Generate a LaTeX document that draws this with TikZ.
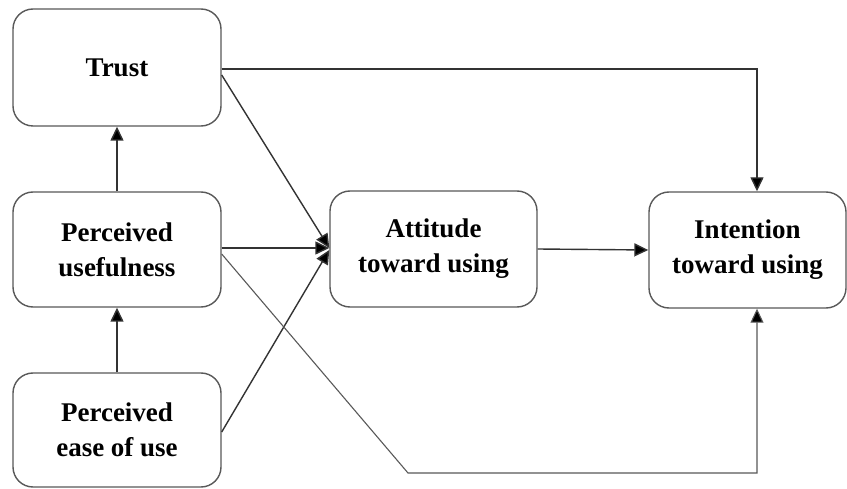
\documentclass[tikz,border=0pt]{standalone}
\usepackage{fontspec}
\setmainfont{Liberation Serif}
\usetikzlibrary{arrows.meta,calc}
\begin{document}
\begin{tikzpicture}[x=1pt,y=-1pt,
  box/.style={draw=black!65,line width=1.4pt,rounded corners=20pt,align=center,
    font=\fontsize{27}{35}\selectfont\bfseries,inner sep=0pt,fill=white},
  conn/.style={draw=black!80,line width=1.4pt,-{Triangle[length=14pt,width=13pt,fill=black]}},
  thinconn/.style={draw=black!65,line width=1.1pt,-{Triangle[length=14pt,width=13pt,fill=black]}}]
\fill[white] (0,0) rectangle (847,489);
\useasboundingbox (0,0) rectangle (847,489);
\node[box,minimum width=208pt,minimum height=117pt] (trust) at (117,67.5) {Trust};
\node[box,minimum width=208pt,minimum height=115pt] (pu) at (117,249.5) {Perceived\\usefulness};
\node[box,minimum width=208pt,minimum height=114pt] (peou) at (117,430) {Perceived\\ease of use};
\node[box,minimum width=207pt,minimum height=116pt] (att) at (433.5,249) {Attitude\\toward using};
\node[box,minimum width=197pt,minimum height=116pt] (int) at (747.5,250) {Intention\\toward using};
\coordinate (tx) at (757,0);
\coordinate (bend) at (408,473);
\coordinate (ts) at ($(trust.east)+(0,1.5)$);
\coordinate (tc) at (ts -| tx);
\draw[conn] (pu.north) -- (trust.south);
\draw[conn] (peou.north) -- (pu.south);
\draw[conn] (ts) -- (tc) -- (tx |- int.north);
\draw[conn] ($(trust.east)+(0,7.5)$) -- ($(att.west)+(0,-1)$);
\draw[conn] ($(pu.east)+(0,-1.5)$) -- ($(att.west)+(0,-1)$);
\draw[conn] ($(peou.east)+(0,2)$) -- ($(att.west)+(0,1)$);
\draw[thinconn] ($(pu.east)+(0,4.5)$) -- (bend) -- (bend -| tx) -- (tx |- int.south);
\draw[conn] (att.east) -- (int.west);
\end{tikzpicture}
\end{document}
